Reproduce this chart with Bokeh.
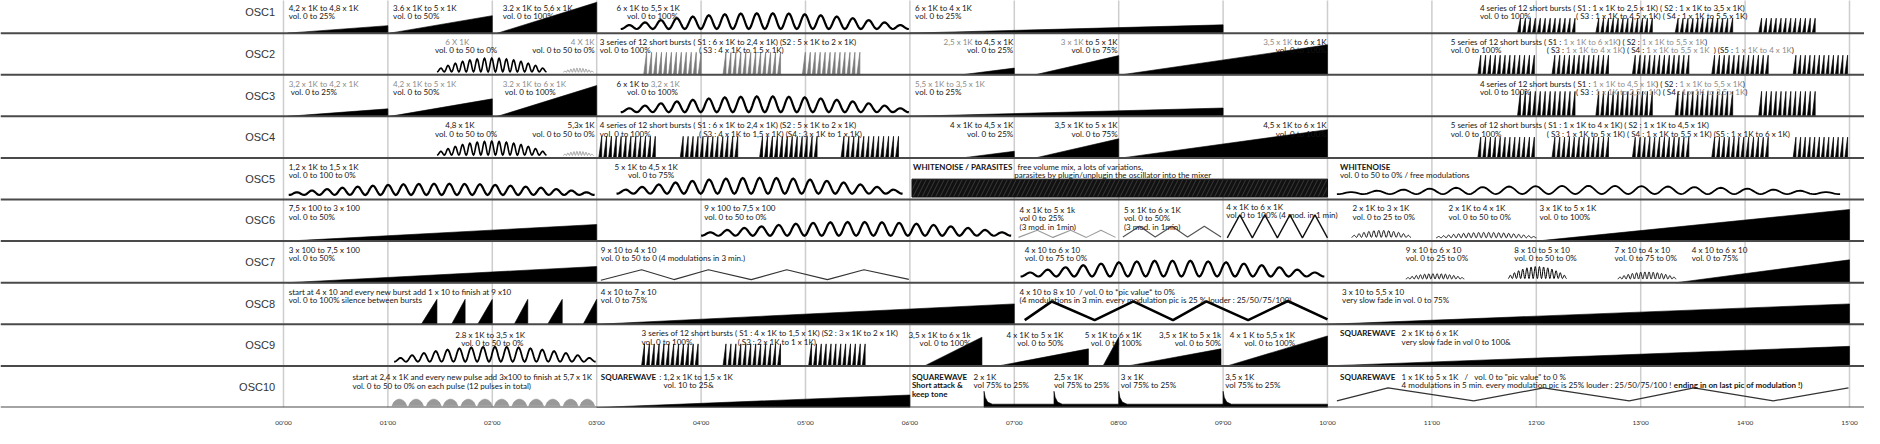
import glob
import re
import struct
import numpy as np
from bokeh.plotting import figure
from bokeh.models import ColumnDataSource, FixedTicker
from bokeh.core.properties import value
from bokeh.embed import file_html
from bokeh.resources import INLINE

# ---------------- data ----------------
rows = ["OSC1", "OSC2", "OSC3", "OSC4", "OSC5", "OSC6", "OSC7", "OSC8", "OSC9", "OSC10"]
tick_minutes = list(range(16))
tick_labels = ["%02d'00" % m for m in tick_minutes]

# volume ramps (wedges): row, start minute, end minute, peak (fraction of row)
ramp_row = [0, 0, 0, 0, 1, 1, 1, 2, 2, 2, 2, 3, 3, 3, 5, 5, 6, 6,
            7, 7, 7, 7, 7, 7, 7, 7, 8, 8, 8, 8, 8, 8, 9]
ramp_x0 = [0.04, 1.02, 2.05, 6.0, 6.5, 7.2, 8.03, 0.04, 1.02, 2.05, 6.0, 6.5, 7.2, 8.03,
           0.04, 12.0, 0.04, 13.34, 1.32, 1.61, 1.86, 2.21, 2.53, 2.87, 3.0, 10.0,
           6.14, 6.85, 7.85, 8.09, 9.04, 10.0, 3.0]
ramp_x1 = [1.0, 2.0, 3.0, 9.0, 7.0, 8.0, 10.0, 1.0, 2.0, 3.0, 9.0, 7.0, 8.0, 10.0,
           3.0, 15.0, 3.0, 15.0, 1.47, 1.74, 2.0, 2.34, 2.67, 3.0, 7.0, 15.0,
           6.69, 7.71, 8.0, 8.98, 10.0, 15.0, 6.0]
ramp_peak = [0.18, 0.42, 0.74, 0.2, 0.16, 0.46, 0.72, 0.18, 0.42, 0.74, 0.2, 0.16, 0.46, 0.68,
             0.4, 0.76, 0.39, 0.55, 0.6, 0.6, 0.6, 0.6, 0.6, 0.6, 0.49, 0.49,
             0.69, 0.41, 0.69, 0.41, 0.72, 0.47, 0.3]

# oscillation drawings: row, start, end, number of cycles, floor, peak amplitude
wave_row = [0, 1, 1, 2, 3, 3, 4, 4, 4, 5, 5, 5, 6, 6, 6, 6, 8]
wave_x0 = [3.23, 1.47, 2.68, 3.23, 1.47, 2.68, 0.05, 3.19, 10.09, 4.0, 10.23, 11.04, 7.06, 10.75, 11.73, 12.78, 1.06]
wave_x1 = [5.99, 2.52, 2.97, 5.99, 2.52, 2.97, 2.98, 5.93, 14.91, 6.97, 10.8, 12.0, 9.97, 11.31, 12.29, 13.34, 2.99]
wave_cycles = [18, 15, 10, 18, 15, 10, 20, 17, 19, 18, 12, 20, 17, 14, 14, 14, 17]
wave_floor = [0.1, 0.07, 0.06, 0.1, 0.07, 0.06, 0.11, 0.14, 0.13, 0.13, 0.09, 0.08, 0.15, 0.09, 0.1, 0.09, 0.1]
wave_amp = [0.38, 0.33, 0.1, 0.38, 0.33, 0.1, 0.27, 0.38, 0.2, 0.33, 0.17, 0.13, 0.38, 0.13, 0.29, 0.17, 0.36]

# modulation zig-zags: row, break points
zig_row = [5, 5, 5, 6, 7, 9]
zig_x = [[7.04, 7.22, 7.37, 7.54, 7.69, 7.83, 7.97],
         [8.04, 8.2, 8.35, 8.51, 8.66, 8.82, 8.98],
         [9.04, 9.16, 9.28, 9.4, 9.52, 9.64, 9.76, 9.88, 10.0],
         [3.04, 3.43, 3.74, 4.07, 4.48, 4.82, 5.21, 5.56, 5.99],
         [7.1, 7.36, 7.77, 8.14, 8.52, 8.84, 9.24, 9.62, 10.0],
         [10.09, 10.58, 11.4, 12.07, 12.89, 13.51, 14.27, 14.99]]
zig_y = [[0.09, 0.26, 0.09, 0.26, 0.09, 0.26, 0.09],
         [0.1, 0.36, 0.1, 0.36, 0.1, 0.36, 0.1],
         [0.08, 0.63, 0.08, 0.63, 0.08, 0.63, 0.08, 0.63, 0.08],
         [0.06, 0.31, 0.075, 0.31, 0.075, 0.31, 0.075, 0.31, 0.08],
         [0.1, 0.55, 0.1, 0.55, 0.1, 0.55, 0.1, 0.56, 0.12],
         [0.16, 0.47, 0.16, 0.47, 0.16, 0.47, 0.16, 0.47]]

# series of 12 short bursts: row, start, end, peak
burst_count = 12
burst_row = [0, 0, 0, 0, 1, 1, 1, 1, 1, 1, 1, 1, 2, 2, 2, 2, 3, 3, 3, 3, 3, 3, 3, 3, 3, 8, 8, 8]
burst_x0 = [11.82, 12.57, 13.33, 14.13, 3.45, 4.21, 4.97, 11.44, 12.15, 12.92, 13.68, 14.46,
            11.82, 12.57, 13.33, 14.13, 3.02, 3.8, 4.56, 5.34, 11.44, 12.15, 12.92, 13.68, 14.46,
            3.43, 4.21, 5.03]
burst_x1 = [12.39, 13.13, 13.9, 14.69, 4.02, 4.78, 5.54, 12.0, 12.71, 13.48, 14.24, 15.0,
            12.39, 13.13, 13.9, 14.69, 3.58, 4.37, 5.13, 5.91, 12.0, 12.71, 13.48, 14.24, 15.0,
            3.99, 4.78, 5.59]
burst_peak = [0.36] * 4 + [0.54] * 3 + [0.47] * 5 + [0.6] * 4 + [0.52] * 4 + [0.5] * 5 + [0.53] * 3

# OSC10 pulses (12) and square-wave attacks
pulse_x0 = [1.04, 1.2, 1.37, 1.53, 1.7, 1.86, 2.02, 2.19, 2.35, 2.51, 2.68, 2.84]
pulse_len = 0.14
pulse_low, pulse_high = 0.04, 0.2
attack_x = [6.71, 7.38, 8.0, 9.0]
attack_stop = 10.0
attack_peak, attack_hold = 0.39, 0.08

# OSC5 white-noise block
noise_x0, noise_x1, noise_low, noise_high = 6.02, 10.0, 0.06, 0.49

# annotations: (minute, line, align, text)   {..} = grey run, §..§ = bold run
notes_osc1 = [(0.05, 0, "l", "4,2 x 1K to 4,8 x 1K"), (0.05, 1, "l", "vol. 0 to 25%"),
              (1.05, 0, "l", "3.6 x 1K to 5 x 1K"), (1.05, 1, "l", "vol. 0 to 50%"),
              (2.1, 0, "l", "3.2 x 1K to 5,6 x 1K"), (2.1, 1, "l", "vol. 0 to 100%"),
              (3.19, 0, "l", "6 x 1K to 5,5 x 1K"), (3.29, 1, "l", "vol. 0 to 100%"),
              (6.05, 0, "l", "6 x 1K to 4 x 1K"), (6.05, 1, "l", "vol. 0 to 25%"),
              (11.46, 0, "l", "4 series of 12 short bursts ( S1 : 1 x 1K to 2,5 x 1K) ( S2 : 1 x 1K to 3,5 x 1K)"),
              (11.46, 1, "l", "vol. 0 to 100%"),
              (12.38, 1, "l", "( S3 : 1 x 1K to 4,5 x 1K) ( S4 : 1 x 1K to 5,5 x 1K)")]
notes_osc2 = [(1.55, 0, "l", "{6 X 1K}"), (1.45, 1, "l", "vol. 0 to 50 to 0%"),
              (2.98, 0, "r", "{4 X 1K}"), (2.98, 1, "r", "vol. 0 to 50 to 0%"),
              (3.03, 0, "l", "3 series of 12 short bursts ( S1 : 6 x 1K to 2,4 x 1K) (S2 : 5 x 1K to 2 x 1K)"),
              (3.03, 1, "l", "vol. 0 to 100%"), (3.98, 1, "l", "( S3 : 4 x 1K to 1.5 x 1K)"),
              (6.99, 0, "r", "{2,5 x 1K} to 4,5 x 1K"), (6.99, 1, "r", "vol. 0 to 25%"),
              (7.99, 0, "r", "{3 x 1K} to 5 x 1K"), (7.99, 1, "r", "vol. 0 to 75%"),
              (9.99, 0, "r", "{3,5 x 1K} to 6 x 1K"), (9.99, 1, "r", "vol. 0 to 100%"),
              (11.18, 0, "l", "5 series of 12 short bursts ( S1 : {1 x 1K to 6 x1K}) ( S2 : {1 x 1K to 5,5 x 1K})"),
              (11.18, 1, "l", "vol. 0 to 100%"),
              (12.1, 1, "l", "( S3 : {1 x 1K to 4 x 1K}) ( S4 : {1 x 1K to 5,5 x 1K}  ) (S5 : {1 x 1K to 4 x 1K})")]
notes_osc3 = [(0.05, 0, "l", "{3,2 x 1K to 4,2 x 1K}"), (0.07, 1, "l", "vol. 0 to 25%"),
              (1.05, 0, "l", "{4,2 x 1K to 5 x 1K}"), (1.05, 1, "l", "vol. 0 to 50%"),
              (2.1, 0, "l", "{3.2 x 1K to 6 x 1K}"), (2.12, 1, "l", "vol. 0 to 100%"),
              (3.19, 0, "l", "6 x 1K to {3,2 x 1K}"), (3.29, 1, "l", "vol. 0 to 100%"),
              (6.05, 0, "l", "{5,5 x 1K to 3,5 x 1K}"), (6.05, 1, "l", "vol. 0 to 25%"),
              (11.46, 0, "l", "4 series of 12 short bursts ( S1 : {1 x 1K to 4,5 x 1K}) ( S2 : {1 x 1K to 5,5 x 1K})"),
              (11.46, 1, "l", "vol. 0 to 100%"),
              (12.38, 1, "l", "( S3 : {1 x 1K to 2,5 x 1K}) ( S4 : {1 x 1K to 3,5 x 1K})")]
notes_osc4 = [(1.55, 0, "l", "4,8 x 1K"), (1.45, 1, "l", "vol. 0 to 50 to 0%"),
              (2.98, 0, "r", "5,3x 1K"), (2.98, 1, "r", "vol. 0 to 50 to 0%"),
              (3.03, 0, "l", "4 series of 12 short bursts ( S1 : 6 x 1K to 2,4 x 1K) (S2 : 5 x 1K to 2 x 1K)"),
              (3.03, 1, "l", "vol. 0 to 100%"), (3.98, 1, "l", "( S3 : 4 x 1K to 1,5 x 1K) (S4 : 3 x 1K to 1 x 1K)"),
              (6.99, 0, "r", "4 x 1K to 4,5 x 1K"), (6.99, 1, "r", "vol. 0 to 25%"),
              (7.99, 0, "r", "3,5 x 1K to 5 x 1K"), (7.99, 1, "r", "vol. 0 to 75%"),
              (9.99, 0, "r", "4,5 x 1K to 6 x 1K"), (9.99, 1, "r", "vol. 0 to 100%"),
              (11.18, 0, "l", "5 series of 12 short bursts ( S1 : 1 x 1K to 4 x 1K) ( S2 : 1 x 1K to 4,5 x 1K)"),
              (11.18, 1, "l", "vol. 0 to 100%"),
              (12.1, 1, "l", "( S3 : 1 x 1K to 5 x 1K) ( S4 : 1 x 1K to 5,5 x 1K) (S5 : 1 x 1K to 6 x 1K)")]
notes_osc5 = [(0.05, 0, "l", "1,2 x 1K to 1,5 x 1K"), (0.05, 1, "l", "vol. 0 to 100 to 0%"),
              (3.17, 0, "l", "5 x 1K to 4,5 x 1K"), (3.3, 1, "l", "vol. 0 to 75%"),
              (6.03, 0, "l", "§WHITENOISE / PARASITES§"), (7.03, 0, "l", "free volume mix, a lots of variations,"),
              (7.0, 1, "l", "parasites by plugin/unplugin the oscillator into the mixer"),
              (10.12, 0, "l", "§WHITENOISE§"), (10.12, 1, "l", "vol. 0 to 50 to 0% / free modulations")]
notes_osc6 = [(0.05, 0, "l", "7,5 x 100 to 3 x 100"), (0.05, 1, "l", "vol. 0 to 50%"),
              (4.03, 0, "l", "9 x 100 to 7,5 x 100"), (4.03, 1, "l", "vol. 0 to 50 to 0%"),
              (7.05, 0.2, "l", "4 x 1K to 5 x 1k"), (7.05, 1.2, "l", "vol 0 to 25%"), (7.05, 2.2, "l", "(3 mod. in 1min)"),
              (8.05, 0.2, "l", "5 x 1K to 6 x 1K"), (8.05, 1.2, "l", "vol. 0 to 50%"), (8.05, 2.2, "l", "(3 mod. in 1min)"),
              (9.03, -0.2, "l", "4 x 1K to 6 x 1K"), (9.03, 0.8, "l", "vol. 0 to 100% (4 mod. in 1 min)"),
              (10.24, 0, "l", "2 x 1K to 3 x 1K"), (10.24, 1, "l", "vol. 0 to 25 to 0%"),
              (11.16, 0, "l", "2 x 1K to 4 x 1K"), (11.16, 1, "l", "vol. 0 to 50 to 0%"),
              (12.03, 0, "l", "3 x 1K to 5 x 1K"), (12.03, 1, "l", "vol. 0 to 100%")]
notes_osc7 = [(0.05, 0, "l", "3 x 100 to 7,5 x 100"), (0.05, 1, "l", "vol. 0 to 50%"),
              (3.04, 0, "l", "9 x 10 to 4 x 10"), (3.04, 1, "l", "vol. 0 to 50 to 0 (4 modulations in 3 min.)"),
              (7.1, 0, "l", "4 x 10 to 6 x 10"), (7.1, 1, "l", "vol. 0 to 75 to 0%"),
              (10.75, 0, "l", "9 x 10 to 6 x 10"), (10.75, 1, "l", "vol. 0 to 25 to 0%"),
              (11.79, 0, "l", "8 x 10 to 5 x 10"), (11.79, 1, "l", "vol. 0 to 50 to 0%"),
              (12.75, 0, "l", "7 x 10 to 4 x 10"), (12.75, 1, "l", "vol. 0 to 75 to 0%"),
              (13.49, 0, "l", "4 x 10 to 6 x 10"), (13.49, 1, "l", "vol. 0 to 75%")]
notes_osc8 = [(0.05, 0, "l", "start at 4 x 10 and every new burst add 1 x 10 to finish at 9 x10"),
              (0.05, 1, "l", "vol. 0 to 100% silence between bursts"),
              (3.04, 0, "l", "4 x 10 to 7 x 10"), (3.04, 1, "l", "vol. 0 to 75%"),
              (7.05, 0, "l", "4 x 10 to 8 x 10  / vol. 0 to *pic value* to 0%"),
              (7.05, 1, "l", "(4 modulations in 3 min. every modulation pic is 25 % louder : 25/50/75/100)"),
              (10.14, 0, "l", "3 x 10 to 5,5 x 10"), (10.14, 1, "l", "very slow fade in vol. 0 to 75%")]
notes_osc9 = [(1.98, 0.2, "c", "2.8 x 1K to 3,5 x 1K"), (2.0, 1.2, "c", "vol. 0 to 50 to 0%"),
              (3.43, 0, "l", "3 series of 12 short bursts ( S1 : 4 x 1K to 1,5 x 1K) (S2 : 3 x 1K to 2 x 1K)"),
              (3.43, 1, "l", "vol. 0 to 100%"), (4.35, 1, "l", "( S3 : 2 x 1K to 1 x 1K)"),
              (6.58, 0.2, "r", "3,5 x 1K to 6 x 1k"), (6.58, 1.2, "r", "vol. 0 to 100%"),
              (7.47, 0.2, "r", "4 x 1K to 5 x 1K"), (7.47, 1.2, "r", "vol. 0 to 50%"),
              (8.22, 0.2, "r", "5 x 1K to 6 x 1K"), (8.22, 1.2, "r", "vol. 0 to 100%"),
              (8.98, 0.2, "r", "3,5 x 1K to 5 x 1k"), (8.98, 1.2, "r", "vol. 0 to 50%"),
              (9.69, 0.2, "r", "4 x 1 K to 5,5 x 1K"), (9.69, 1.2, "r", "vol. 0 to 100%"),
              (10.12, 0, "l", "§SQUAREWAVE§"), (10.71, 0, "l", "2 x 1K to 6 x 1K"),
              (10.71, 1, "l", "very slow fade in vol 0 to 100&")]
notes_osc10 = [(0.66, 0.3, "l", "start at 2,4 x 1K and every new pulse add 3x100 to finish at 5,7 x 1K"),
               (0.66, 1.3, "l", "vol. 0 to 50 to 0% on each pulse (12 pulses in total)"),
               (3.04, 0.2, "l", "§SQUAREWAVE§ : 1,2 x 1K to 1,5 x 1K"), (3.64, 1.2, "l", "vol. 10 to 25&"),
               (6.02, 0.2, "l", "§SQUAREWAVE§"), (6.02, 1.25, "l", "§Short attack &§"), (6.02, 2.3, "l", "§keep tone§"),
               (6.61, 0.2, "l", "2 x 1K"), (6.61, 1.2, "l", "vol 75% to 25%"),
               (7.38, 0.2, "l", "2,5 x 1K"), (7.38, 1.2, "l", "vol 75% to 25%"),
               (8.02, 0.2, "l", "3 x 1K"), (8.02, 1.2, "l", "vol 75% to 25%"),
               (9.02, 0.2, "l", "3,5 x 1K"), (9.02, 1.2, "l", "vol 75% to 25%"),
               (10.12, 0.2, "l", "§SQUAREWAVE§"),
               (10.71, 0.2, "l", "1 x 1K to 5 x 1K   /   vol. 0 to \"pic value\" to 0 %"),
               (10.71, 1.2, "l", "4 modulations in 5 min. every modulation pic is 25% louder : 25/50/75/100 ! §ending in on last pic of modulation !)§")]
all_notes = [notes_osc1, notes_osc2, notes_osc3, notes_osc4, notes_osc5,
             notes_osc6, notes_osc7, notes_osc8, notes_osc9, notes_osc10]

# ---------------- layout / style ----------------
W, H = 1864, 428
X0, X1 = -2.7107, 15.1437
Y0, Y1 = 0.0, 9.785
PPM = W / (X1 - X0)
FONT = "Lato"
FSIZE = 8.0
INK = "#141414"
GREY = "#8c8c8c"
FIRST, STEP = 0.215, 0.2


def base(r):
    return 9 - r


def line_y(r, line):
    if r == 0:
        return Y1 - 0.175 - line * 0.19
    return base(r) + 1 - FIRST - line * STEP


# ---- text advance widths from the installed font file (for multi-colour lines) ----
def load_advances(pattern_list):
    path = None
    for pat in pattern_list:
        hits = sorted(glob.glob(pat, recursive=True))
        if hits:
            path = hits[0]
            break
    if path is None:
        return None
    try:
        data = open(path, "rb").read()
        ntab = struct.unpack(">H", data[4:6])[0]
        tabs = {}
        for i in range(ntab):
            tag, _cs, off, ln = struct.unpack(">4sIII", data[12 + 16 * i:28 + 16 * i])
            tabs[tag.decode("latin1")] = off
        upem = struct.unpack(">H", data[tabs["head"] + 18:tabs["head"] + 20])[0]
        nhm = struct.unpack(">H", data[tabs["hhea"] + 34:tabs["hhea"] + 36])[0]
        ho = tabs["hmtx"]
        adv = [struct.unpack(">H", data[ho + 4 * i:ho + 4 * i + 2])[0] for i in range(nhm)]
        co = tabs["cmap"]
        nsub = struct.unpack(">H", data[co + 2:co + 4])[0]
        sub = None
        for i in range(nsub):
            pid, eid, so = struct.unpack(">HHI", data[co + 4 + 8 * i:co + 12 + 8 * i])
            fmt = struct.unpack(">H", data[co + so:co + so + 2])[0]
            if fmt == 4 and (pid == 0 or (pid == 3 and eid in (0, 1))):
                sub = co + so
                break
        if sub is None:
            return None
        segx2 = struct.unpack(">H", data[sub + 6:sub + 8])[0]
        seg = segx2 // 2
        ends = struct.unpack(">%dH" % seg, data[sub + 14:sub + 14 + segx2])
        starts = struct.unpack(">%dH" % seg, data[sub + 16 + segx2:sub + 16 + 2 * segx2])
        deltas = struct.unpack(">%dh" % seg, data[sub + 16 + 2 * segx2:sub + 16 + 3 * segx2])
        rpos = sub + 16 + 3 * segx2
        roffs = struct.unpack(">%dH" % seg, data[rpos:rpos + segx2])
        out = {}
        for c in range(32, 127):
            for s in range(seg):
                if ends[s] >= c:
                    if starts[s] <= c:
                        if roffs[s] == 0:
                            g = (c + deltas[s]) & 0xFFFF
                        else:
                            a = rpos + 2 * s + roffs[s] + 2 * (c - starts[s])
                            g = struct.unpack(">H", data[a:a + 2])[0]
                            if g:
                                g = (g + deltas[s]) & 0xFFFF
                        out[chr(c)] = adv[min(g, nhm - 1)] / upem
                    break
        return out if len(out) > 50 else None
    except Exception:
        return None


ADV_R = load_advances(["/usr/share/fonts/**/Lato-Regular.ttf", "/usr/share/fonts/**/Lato-Regular.otf",
                       "/usr/local/share/fonts/**/Lato-Regular.ttf", "/usr/share/fonts/**/Lato*Regular*.ttf"])
ADV_B = load_advances(["/usr/share/fonts/**/Lato-Bold.ttf", "/usr/share/fonts/**/Lato-Bold.otf",
                       "/usr/local/share/fonts/**/Lato-Bold.ttf"])
CW = {" ": 0.193, ",": 0.22, ".": 0.22, ":": 0.24, "(": 0.3, ")": 0.3, "/": 0.36, "%": 0.8,
      "&": 0.7, "*": 0.4, "!": 0.3, "-": 0.36, '"': 0.4, "'": 0.2,
      "a": 0.49, "b": 0.55, "c": 0.46, "d": 0.55, "e": 0.52, "f": 0.32, "g": 0.5, "h": 0.55,
      "i": 0.24, "j": 0.24, "k": 0.5, "l": 0.24, "m": 0.82, "n": 0.55, "o": 0.55, "p": 0.55,
      "q": 0.55, "r": 0.36, "s": 0.42, "t": 0.35, "u": 0.55, "v": 0.5, "w": 0.76, "x": 0.49,
      "y": 0.5, "z": 0.45, "I": 0.28, "K": 0.63, "S": 0.52, "W": 0.95, "M": 0.88, "L": 0.49}


def text_width(s, bold):
    table = ADV_B if bold else ADV_R
    if table is None and bold:
        table = ADV_R
    w = 0.0
    for ch in s:
        if table is not None and ch in table:
            w += table[ch] * (1.0 if (not bold or ADV_B is not None) else 1.05)
        elif ch.isdigit():
            w += 0.58 * 1.1
        else:
            w += CW.get(ch, 0.66 if ch.isupper() else 0.52) * 1.1
    return w * FSIZE


def split_runs(s):
    runs, cur, grey, bold = [], "", False, False
    for ch in s:
        if ch in "{}§":
            if cur:
                runs.append((cur, grey, bold))
            cur = ""
            if ch == "{":
                grey = True
            elif ch == "}":
                grey = False
            else:
                bold = not bold
        else:
            cur += ch
    if cur:
        runs.append((cur, grey, bold))
    return runs


p = figure(width=W, height=H, x_range=(X0, X1), y_range=(Y0, Y1), output_backend="svg",
           toolbar_location=None, y_axis_type=None, min_border_left=0, min_border_right=0,
           min_border_top=0, min_border_bottom=19)
p.grid.visible = False
p.outline_line_color = None
p.background_fill_color = "white"

# vertical minute lines
p.segment(x0=tick_minutes, x1=tick_minutes, y0=[0] * 16, y1=[10] * 16, line_color="#cdcdcd", line_width=1.5)

# ramps
rx, ry = [], []
for r, a, b, h in zip(ramp_row, ramp_x0, ramp_x1, ramp_peak):
    y = base(r)
    rx.append([a, b, b])
    ry.append([y, y, y + h])
p.patches(rx, ry, fill_color="black", line_color="black", line_width=0.6)

# bursts
bx, by, bc = [], [], []
for i, (r, a, b, h) in enumerate(zip(burst_row, burst_x0, burst_x1, burst_peak)):
    y = base(r)
    step = (b - a) / burst_count
    col = "#7a7a7a" if i in (4, 5, 6) else "black"
    for k in range(burst_count):
        left = a + k * step
        right = left + 0.6 * step
        bx.append([left, right, right])
        by.append([y, y + h, y])
        bc.append(col)
p.patches(bx, by, fill_color=bc, line_color=bc, line_width=0.7)

# waves
wave_weight = [2.2, 1.6, 0.8, 2.2, 1.6, 0.8, 2.2, 2.2, 1.8, 2.2, 0.9, 0.9, 2.2, 0.9, 1.0, 0.9, 1.8]
wave_color = ["black", "black", "#8a8a8a", "black", "black", "#8a8a8a"] + ["black"] * 11
wx, wy = [], []
for r, a, b, n, f, A in zip(wave_row, wave_x0, wave_x1, wave_cycles, wave_floor, wave_amp):
    t = np.linspace(0, 1, n * 14 + 1)
    env = 0.12 + 0.88 * np.sin(np.pi * t) ** 0.8
    yy = base(r) + f + A * env * (0.5 - 0.5 * np.cos(2 * np.pi * n * t))
    wx.append(list(a + (b - a) * t))
    wy.append(list(yy))
p.multi_line(wx, wy, line_color=wave_color, line_width=wave_weight, line_join="miter")

# zig-zags
zig_color = ["#9a9a9a", "#555555", "#111111", "#333333", "black", "#333333"]
zig_width = [1.1, 1.2, 1.4, 1.1, 2.6, 1.3]
zx = [list(xs) for xs in zig_x]
zy = [[base(r) + v for v in ys] for r, ys in zip(zig_row, zig_y)]
p.multi_line(zx, zy, line_color=zig_color, line_width=zig_width)

# OSC10 pulses (domes)
b10 = base(9)
dome_u = [0.0, 0.12, 0.25, 0.4, 0.5, 0.6, 0.75, 0.88, 1.0]
dome_v = [0.0, 0.55, 0.82, 0.97, 1.0, 0.97, 0.82, 0.55, 0.0]
px_, py_ = [], []
for a in pulse_x0:
    px_.append([a + u * pulse_len for u in dome_u])
    py_.append([b10 + pulse_low + v * (pulse_high - pulse_low) for v in dome_v])
p.patches(px_, py_, fill_color="#999999", line_color="#8a8a8a", line_width=0.6)

# OSC10 square-wave attacks
ax_, ay_ = [], []
for i, a in enumerate(attack_x):
    nxt = attack_x[i + 1] if i + 1 < len(attack_x) else attack_stop
    ax_.append([a, a, a + 0.012, a + 0.035, a + 0.08, nxt, nxt])
    ay_.append([b10, b10 + attack_peak, b10 + 0.24, b10 + 0.13, b10 + attack_hold, b10 + attack_hold, b10])
p.patches(ax_, ay_, fill_color="black", line_color="black", line_width=0.6)

# OSC5 white noise block
b5 = base(4)
p.quad(left=[noise_x0], right=[noise_x1], bottom=[b5 + noise_low], top=[b5 + noise_high],
       fill_color="#111111", line_color="#111111", hatch_pattern="/", hatch_color="#5e5e5e",
       hatch_scale=9, hatch_weight=0.5)

# row separators
p.segment(x0=[X0] * 10, x1=[X1] * 10, y0=list(range(10)), y1=list(range(10)),
          line_color="#4a4a4a", line_width=2)

# row labels
p.text(x=[-0.08] * 10, y=[base(r) + 0.5 for r in range(10)], text=rows, text_align="right",
       text_baseline="middle", text_font=value("Liberation Sans"), text_font_size=value("11px"),
       text_color="#333333")

# annotation text
tx, ty, tt, tc, ts, ta = [], [], [], [], [], []
amap = {"l": "left", "r": "right", "c": "center"}


def add_piece(x, y, txt, grey, bold, align):
    tx.append(x); ty.append(y); tt.append(txt)
    tc.append(GREY if grey else INK); ts.append("bold" if bold else "normal")
    ta.append(align)


for r, notes in enumerate(all_notes):
    for xm, line, al, s in notes:
        y = line_y(r, line)
        runs = split_runs(s)
        if len(runs) == 1 and "  " not in s:
            txt, grey, bold = runs[0]
            add_piece(xm, y, txt, grey, bold, amap[al])
            continue
        total = sum(text_width(t_, b_) for t_, g_, b_ in runs)
        if al == "r":
            start = xm - total / PPM
        elif al == "c":
            start = xm - total / 2 / PPM
        else:
            start = xm
        for txt, grey, bold in runs:
            for piece in re.split(r"(^ +| {2,}| +$)", txt):
                if not piece:
                    continue
                if piece.strip():
                    add_piece(start, y, piece, grey, bold, "left")
                start += text_width(piece, bold) / PPM

src = ColumnDataSource(dict(x=tx, y=ty, text=tt, color=tc, style=ts, align=ta))
p.text(x="x", y="y", text="text", source=src, text_color="color", text_font_style="style",
       text_align="align", text_baseline="alphabetic", text_font=value(FONT),
       text_font_size=value("%gpx" % FSIZE))

# time axis
ax = p.xaxis[0]
ax.ticker = FixedTicker(ticks=tick_minutes)
ax.major_label_overrides = {m: lab for m, lab in zip(tick_minutes, tick_labels)}
ax.axis_line_color = None
ax.major_tick_line_color = None
ax.minor_tick_line_color = None
ax.major_label_standoff = 5
ax.major_label_text_font = FONT
ax.major_label_text_font_size = "6.5px"
ax.major_label_text_color = "#333333"

open("out.html", "w").write(file_html(p, INLINE))
